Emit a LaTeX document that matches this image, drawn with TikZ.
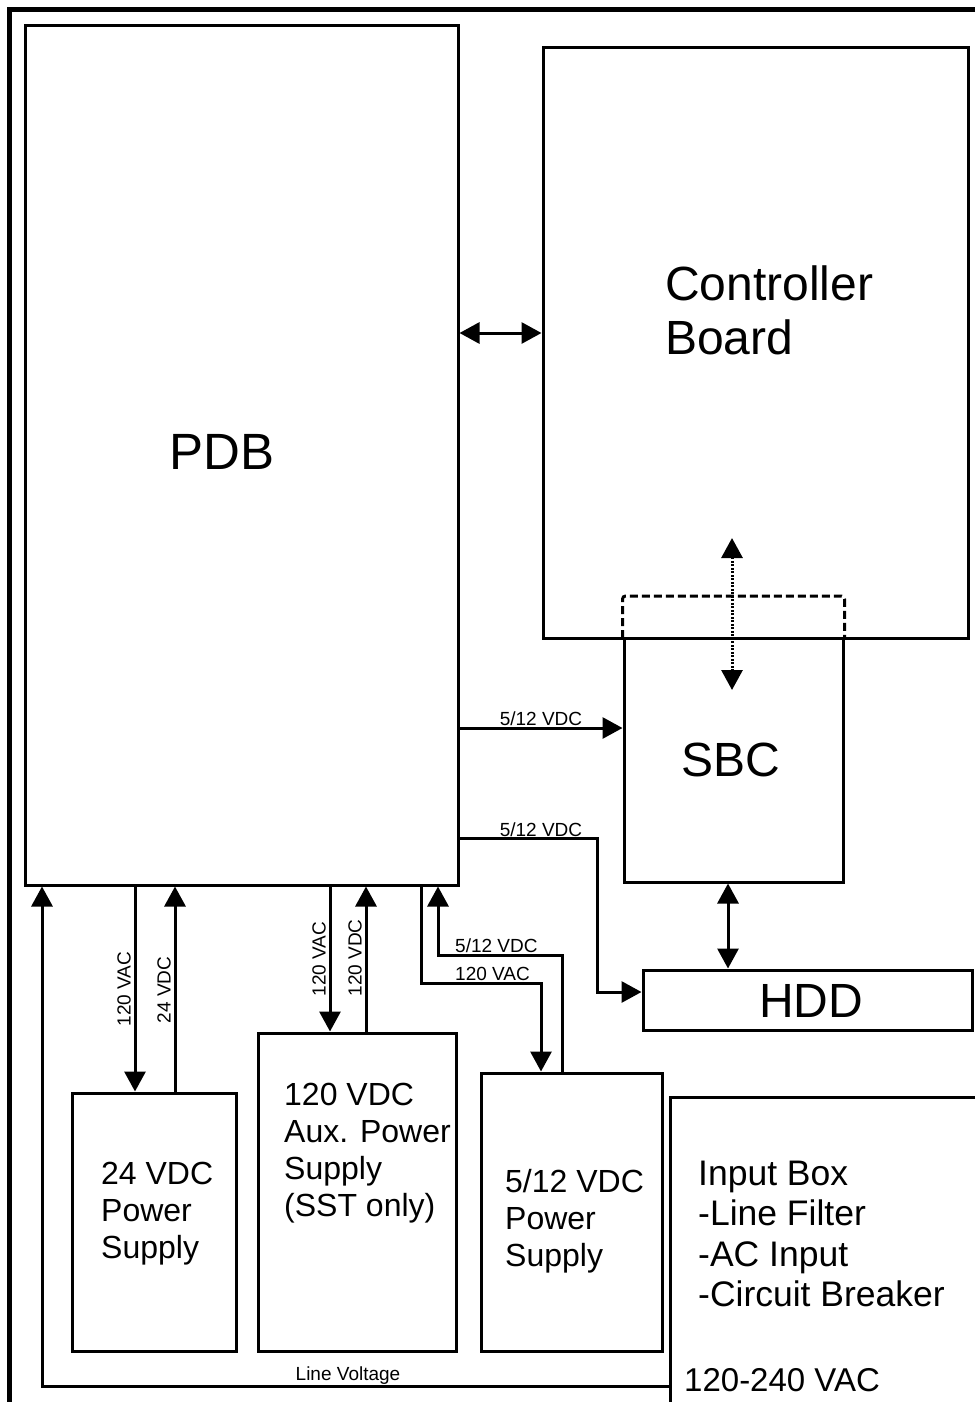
\documentclass[tikz,border=0pt]{standalone}
\usepackage{fontspec}
\setmainfont{Liberation Sans}
\usetikzlibrary{arrows.meta}
\begin{document}
\begin{tikzpicture}[x=1pt,y=-1pt,
  box/.style={draw, line width=3pt, inner sep=0pt, rectangle},
  conn/.style={line width=3pt},
  arr/.style={conn, -{Triangle[length=20pt,width=21pt]}},
  dbl/.style={conn, {Triangle[length=20pt,width=21pt]}-{Triangle[length=20pt,width=21pt]}},
  bigtxt/.style={font=\fontsize{48}{54}\selectfont, inner sep=0pt},
  pstxt/.style={font=\fontsize{32}{37}\selectfont, align=left, inner sep=0pt, anchor=west},
  intxt/.style={font=\fontsize{35.5}{40.5}\selectfont, align=left, inner sep=0pt, anchor=west},
  lbl/.style={font=\fontsize{19}{21}\selectfont, inner sep=1pt}
]
\useasboundingbox (0,0) rectangle (975,1402);
\fill[white] (0,0) rectangle (975,1402);
% outer frame
\draw[line width=5pt] (975,10) -- (9,10) -- (9,1402);

% boxes
\node[box, minimum width=433pt, minimum height=859pt] (pdb) at (241.5,455.5) {};
\node[bigtxt, font=\fontsize{51}{56}\selectfont] (pdbt) at (222,452) {PDB};
\node[box, minimum width=425pt, minimum height=590pt] (ctrl) at (755.5,343) {};
\node[bigtxt, align=left, anchor=west, font=\fontsize{48}{54}\selectfont] (ctrlt) at (665,310) {Controller\\Board};
\node[box, minimum width=219pt, minimum height=244pt] (sbc) at (733.5,760) {};
\node[bigtxt] (sbct) at (731,760) {SBC};
\node[box, minimum width=329pt, minimum height=60pt] (hdd) at (807.5,1000) {};
\node[bigtxt] (hddt) at (811,1001) {HDD};
\node[box, minimum width=164pt, minimum height=258pt] (ps24) at (154,1222) {};
\node[pstxt] (ps24t) at (101,1214) {24 VDC\\Power\\Supply};
\node[box, minimum width=198pt, minimum height=318pt] (aux) at (357,1192) {};
\node[pstxt] (auxt) at (284,1153) {120 VDC\\Aux. Power\\Supply\\(SST only)};
\node[box, minimum width=181pt, minimum height=278pt] (ps512) at (571.5,1212) {};
\node[pstxt] (ps512t) at (505,1221) {5/12 VDC\\Power\\Supply};

% input box (open to the right and bottom)
\draw[line width=3pt] (975,1097) -- (670,1097) -- (670,1402);
\coordinate (inbox) at (670,1386);
\node[intxt] (inputt) at (698,1234) {Input Box\\-Line Filter\\-AC Input\\-Circuit Breaker};
\node[font=\fontsize{33}{38}\selectfont, inner sep=0pt, anchor=west] (vac) at (684,1380) {120-240 VAC};

% SBC dashed top
\draw[line width=3pt, dash pattern=on 8pt off 4pt, rounded corners=3pt]
  (sbc.north west |- 0,638) -- (sbc.north west |- 0,596) -- (sbc.north east |- 0,596) -- (sbc.north east |- 0,638);

% connectors
\draw[dbl] (pdb.east |- 0,333) -- (ctrl.west |- 0,333);
\coordinate (dtop) at (732,538);
\coordinate (dbot) at (732,690);
\draw[conn, line width=3pt, dash pattern=on 2pt off 1.5pt, {Triangle[length=20pt,width=21pt]}-{Triangle[length=20pt,width=21pt]}] (dtop) -- (dbot);
\draw[arr] (pdb.east |- 0,728) -- node[above, lbl, pos=0.5] {5/12 VDC} (sbc.west |- 0,728);
\draw[arr] (pdb.east |- 0,838) -- (597,838) -- (597,992) -- (hdd.west |- 0,992);
\node[lbl, anchor=south] (l7) at (541,838) {5/12 VDC};
\draw[dbl] (sbc.south -| 728,0) -- (hdd.north -| 728,0);

\draw[arr] (inbox) -- (42,1386) -- (pdb.south -| 42,0);
\node[lbl, anchor=south] (l8) at (348,1386) {Line Voltage};
\draw[arr] (pdb.south -| 135,0) -- (ps24.north -| 135,0);
\node[lbl, rotate=90] (l1) at (124,989) {120 VAC};
\draw[arr] (ps24.north -| 175,0) -- (pdb.south -| 175,0);
\node[lbl, rotate=90] (l2) at (164,990) {24 VDC};
\draw[arr] (pdb.south -| 330,0) -- (aux.north -| 330,0);
\node[lbl, rotate=90] (l3) at (319,959) {120 VAC};
\draw[arr] (aux.north -| 366,0) -- (pdb.south -| 366,0);
\node[lbl, rotate=90] (l4) at (355,958) {120 VDC};
\draw[arr] (pdb.south -| 421,0) -- (421,983) -- (541,983) -- (ps512.north -| 541,0);
\node[lbl, anchor=south west] (l5) at (454,982) {120 VAC};
\draw[arr] (ps512.north -| 562,0) -- (562,955) -- (438,955) -- (pdb.south -| 438,0);
\node[lbl, anchor=south west] (l6) at (454,954) {5/12 VDC};
\end{tikzpicture}
\end{document}
